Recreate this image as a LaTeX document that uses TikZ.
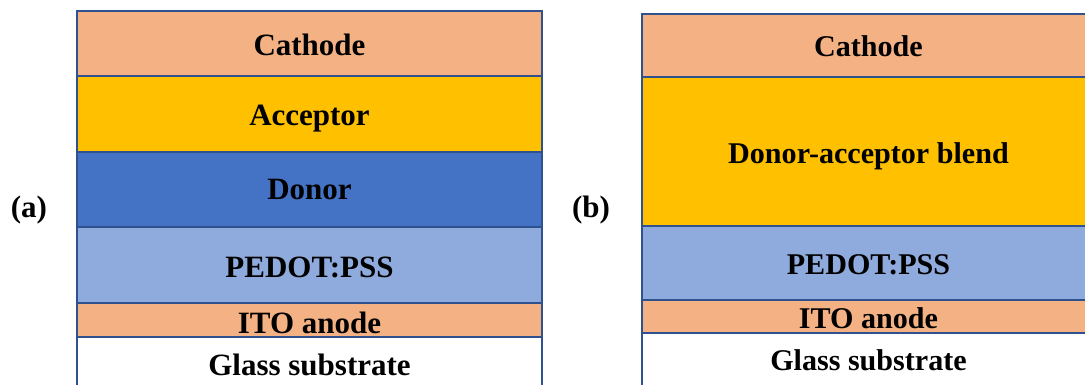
\documentclass[tikz,border=0pt]{standalone}
\usepackage{fontspec}
\setmainfont{Liberation Serif}
\definecolor{cath}{HTML}{F4B183}
\definecolor{acc}{HTML}{FFC000}
\definecolor{don}{HTML}{4472C4}
\definecolor{ped}{HTML}{8FAADC}
\definecolor{edge}{HTML}{2F528F}
\tikzset{
  lbl/.style={anchor=base,inner sep=0pt,font=\bfseries\fontsize{31}{31}\selectfont},
  lblb/.style={anchor=base,inner sep=0pt,font=\bfseries\fontsize{30.1}{30}\selectfont},
  bord/.style={draw=edge,line width=1.9pt},
}
\begin{document}
\begin{tikzpicture}[x=1pt,y=-1pt]
\useasboundingbox (0,0) rectangle (1085,385);
\clip (0,0) rectangle (1085,385);
% panel (a)
\fill[cath] (77,11) rectangle (542,76);
\fill[acc]  (77,76) rectangle (542,152);
\fill[don]  (77,152) rectangle (542,227);
\fill[ped]  (77,227) rectangle (542,303);
\fill[cath] (77,303) rectangle (542,337);
\fill[white] (77,337) rectangle (542,390);
\draw[bord] (77,390) -- (77,11) -- (542,11) -- (542,390);
\foreach \y in {76,152,227,303,337} \draw[bord] (77,\y) -- (542,\y);
\node[lbl] (a1) at (309.5,56) {Cathode};
\node[lbl] (a2) at (309.5,126) {Acceptor};
\node[lbl] (a3) at (309.5,200) {Donor};
\node[lbl] (a4) at (309.5,277) {PEDOT:PSS};
\node[lbl] (a5) at (309.5,333) {ITO anode};
\node[lbl] (a6) at (309.5,375) {Glass substrate};
\node[lbl] (la) at (29,217) {(a)};
% panel (b)
\fill[cath] (642,14) rectangle (1097,77);
\fill[acc]  (642,77) rectangle (1097,226);
\fill[ped]  (642,226) rectangle (1097,300);
\fill[cath] (642,300) rectangle (1097,333);
\fill[white] (642,333) rectangle (1097,390);
\draw[bord] (642,390) -- (642,14) -- (1097,14);
\foreach \y in {77,226,300,333} \draw[bord] (642,\y) -- (1097,\y);
\node[lblb] (b1) at (868.5,57) {Cathode};
\node[lblb] (b2) at (868.5,164) {Donor-acceptor blend};
\node[lblb] (b3) at (868.5,274) {PEDOT:PSS};
\node[lblb] (b4) at (868.5,328) {ITO anode};
\node[lblb] (b5) at (868.5,370) {Glass substrate};
\node[lbl] (lb) at (591,217) {(b)};
\end{tikzpicture}
\end{document}
